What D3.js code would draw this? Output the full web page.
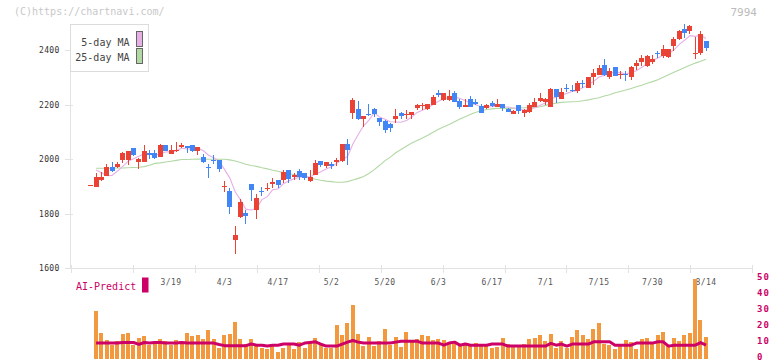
<!DOCTYPE html>
<html><head><meta charset="utf-8">
<script src="https://cdn.jsdelivr.net/npm/d3@7"></script>
<style>body{margin:0;background:#fff}svg{display:block}</style>
</head><body><svg id="c" width="772" height="361"></svg>
<script>
const dates = ["2/26","2/27","2/28",
"3/3","3/4","3/5","3/6","3/7","3/10","3/11","3/12","3/13","3/14","3/17","3/18","3/19","3/21","3/24","3/25","3/26","3/27","3/28","3/31",
"4/1","4/2","4/3","4/4","4/7","4/8","4/9","4/10","4/11","4/14","4/15","4/16","4/17","4/18","4/21","4/22","4/23","4/24","4/25","4/28","4/30",
"5/1","5/2","5/7","5/8","5/9","5/12","5/13","5/14","5/15","5/16","5/19","5/20","5/21","5/22","5/23","5/26","5/27","5/28","5/29","5/30",
"6/2","6/3","6/4","6/5","6/6","6/9","6/10","6/11","6/12","6/13","6/16","6/17","6/18","6/19","6/20","6/23","6/24","6/25","6/26","6/27","6/30",
"7/1","7/2","7/3","7/4","7/7","7/8","7/9","7/10","7/11","7/14","7/15","7/16","7/17","7/18","7/22","7/23","7/24","7/25","7/28","7/29","7/30","7/31",
"8/1","8/4","8/5","8/6","8/7","8/8","8/12","8/13","8/14"];
const open = [1903,1900,1924,1940,1972,1972,1997,1997,2041,1990,
1991,2023,2023,2010,2052,2021,2032,2046,2049,2052,
2030,2008,1970,1997,1997,1900,1884,1705,1788,1803,
1909,1814,1883,1892,1908,1924,1924,1961,1934,1956,
1950,1920,1942,1994,1975,1984,1991,1994,2056,2171,
2185,2148,2165,2185,2152,2141,2131,2148,2171,2163,
2164,2189,2196,2186,2200,2243,2218,2218,2243,2214,
2193,2221,2210,2196,2189,2208,2193,2203,2185,2167,
2199,2171,2175,2193,2215,2210,2193,2258,2221,2260,
2255,2252,2280,2263,2303,2309,2346,2303,2339,2310,
2313,2303,2344,2357,2344,2357,2389,2379,2377,2416,
2442,2478,2472,2389,2391,2434];
const high = [1906,1951,1952,1983,1990,1990,2025,2030,2042,2003,
2054,2034,2034,2056,2053,2052,2062,2060,2050,2053,
2046,2019,1983,2016,1998,1919,1895,1755,1854,1814,
1910,1873,1897,1913,1930,1925,1961,1962,1949,1964,
1951,1961,1997,1995,1991,1989,2005,2057,2074,2225,
2214,2160,2204,2188,2153,2144,2132,2185,2174,2181,
2175,2204,2208,2204,2237,2254,2244,2254,2251,2221,
2221,2232,2221,2203,2203,2214,2221,2204,2188,2181,
2200,2185,2207,2225,2243,2225,2260,2259,2260,2275,
2273,2287,2291,2303,2331,2346,2368,2335,2340,2324,
2324,2341,2364,2383,2383,2383,2398,2420,2406,2449,
2475,2497,2493,2449,2471,2435];
const low = [1902,1898,1920,1938,1952,1969,1988,1979,2013,1966,
1990,2002,2002,2008,2030,2019,2028,2041,2024,2028,
2017,1988,1933,1983,1955,1881,1800,1654,1785,1764,
1848,1782,1867,1884,1896,1895,1914,1914,1924,1925,
1924,1918,1941,1973,1969,1964,1977,1990,1980,2148,
2144,2119,2160,2155,2122,2097,2100,2133,2148,2148,
2148,2182,2182,2181,2199,2230,2214,2214,2211,2186,
2192,2192,2199,2170,2186,2193,2192,2178,2173,2166,
2167,2156,2171,2192,2212,2199,2192,2208,2220,2248,
2247,2245,2263,2260,2274,2308,2306,2296,2306,2296,
2289,2292,2328,2344,2340,2351,2372,2373,2373,2398,
2438,2445,2460,2368,2383,2398];
const close = [1905,1935,1936,1972,1957,1984,2023,2029,2017,2001,
2030,2016,2006,2052,2032,2034,2033,2052,2041,2032,
2045,1990,1968,1993,1964,1902,1826,1722,1843,1793,
1887,1858,1881,1894,1918,1906,1953,1928,1942,1936,
1933,1935,1986,1978,1990,1974,1997,2056,2034,2218,
2148,2159,2163,2166,2137,2108,2116,2159,2160,2165,
2174,2200,2200,2203,2227,2236,2243,2232,2212,2193,
2200,2193,2203,2171,2200,2196,2203,2189,2174,2177,
2177,2181,2199,2210,2225,2220,2258,2230,2246,2258,
2253,2279,2278,2302,2317,2336,2309,2325,2307,2312,
2311,2339,2355,2372,2379,2368,2387,2405,2405,2442,
2471,2464,2489,2391,2460,2409];
const ma5 = [null,1961,1951,1940,1941,1957,1974,1993,2002,2011,
2020,2019,2014,2021,2027,2028,2031,2041,2038,2038,
2041,2032,2015,2006,1992,1963,1931,1881,1851,1817,
1814,1821,1852,1863,1888,1891,1910,1920,1929,1933,
1938,1935,1946,1954,1964,1973,1985,1999,2010,2056,
2091,2123,2144,2171,2155,2147,2138,2137,2136,2142,
2155,2172,2180,2188,2201,2213,2222,2228,2230,2223,
2216,2206,2200,2192,2193,2193,2195,2192,2192,2188,
2184,2180,2182,2189,2198,2207,2222,2229,2236,2242,
2249,2253,2263,2274,2286,2302,2308,2318,2319,2318,
2313,2319,2325,2338,2351,2363,2372,2382,2389,2401,
2422,2437,2454,2451,2455,2443];
const ma25 = [null,1967,1967,1967,1967,1968,1968,1969,1970,1971,
1973,1978,1985,1987,1990,1993,1996,1999,1999,2000,
2001,2000,2000,2000,2000,2000,1998,1994,1988,1982,
1977,1974,1969,1965,1960,1956,1951,1947,1944,1940,
1936,1932,1927,1923,1920,1918,1916,1916,1918,1924,
1930,1937,1948,1962,1978,1995,2008,2024,2036,2048,
2060,2069,2078,2088,2099,2110,2119,2128,2138,2148,
2156,2165,2173,2178,2183,2185,2187,2187,2187,2187,
2188,2189,2190,2190,2193,2198,2203,2206,2209,2210,
2211,2212,2215,2218,2222,2226,2232,2237,2244,2249,
2254,2260,2266,2272,2279,2285,2292,2301,2310,2319,
2328,2337,2345,2353,2360,2367];
const volume = [null,30.2,16.4,11.9,8.7,11.2,15.6,16.4,8.7,13.1,
14.4,8.7,11.2,12.5,11.2,8.7,11.9,9.4,16.4,14.4,
15,12.5,18.1,12.5,7.1,15,15.6,23.3,12.5,9.4,
12.5,8.1,7.1,6.2,8.1,4.4,7.1,8.7,6.2,10.8,
7.1,10.8,13.1,8.7,7.1,7.1,21.2,15,22.7,33.7,
15.6,8.1,13.7,8.1,11.2,18.7,8.7,13.7,7.5,16.9,
11.2,12.5,15,14.4,11.9,12.5,11.9,10.6,11.2,8.7,
10,9.4,10,8.1,8.1,6.9,7.5,13.1,9.4,8.1,
8.1,9.4,12.5,13.1,15,11.2,15.6,6.9,11.2,6.9,
13.7,18.1,15,12.5,18.7,22.5,9.4,8.7,6.2,8.7,
11.9,10.6,6.2,12.5,13.1,10.6,15,16.9,8.1,13.1,
11.2,15,16.2,50.2,24.3,13.7];
const aiPredict = [null,10.0,10.0,10.0,10.0,10.0,10.4,10.4,10.4,9.2,
10.4,10.0,10.4,10.4,10.0,10.0,10.0,10.4,10.0,10.0,
10.0,10.0,10.0,10.0,9.1,8.4,8.4,8.4,8.4,8.4,
9.4,8.7,8.7,8.2,8.7,8.7,9.4,9.4,9.4,8.7,
10.0,10.4,10.8,9.4,8.1,8.1,8.1,9.4,10.6,11.6,
10.6,10.0,10.0,10.0,10.0,10.0,10.0,10.6,11.2,11.2,
11.2,11.2,10.0,10.0,10.0,10.0,8.7,10.0,10.6,8.7,
9.4,8.7,8.7,8.7,8.7,9.4,9.4,9.4,8.1,8.1,
8.1,8.1,8.1,8.1,8.1,8.1,9.8,8.7,9.4,8.1,
9.4,9.4,9.4,9.4,10.8,10.8,10.8,10.8,8.7,8.7,
8.7,8.7,10.0,10.0,10.0,10.0,10.8,10.8,8.1,8.7,
8.7,8.7,8.7,8.7,10.3,8.7];
const xLabels = ["3/19","4/3","4/17","5/2","5/20","6/3","6/17","7/1","7/15","7/30","8/14"];
const yTicks = [1600,1800,2000,2200,2400];
const volTicks = [0,10,20,30,40,50];
const gridDivisions = d3.range(12);

const C = {red:"#ea4335", blue:"#4285f4", vol:"#f2993f", ai:"#cc0066",
  ma5:"#e6b0e6", ma25:"#b2d8a4", axis:"#e2e2e2"};
const FONT = "'DejaVu Sans Mono', monospace";

const svg = d3.select("#c");
const x = d3.scalePoint().domain(dates).range([90.75, 706]);
const y = d3.scaleLinear().domain([1600, 2400]).range([268.3, 50.3]);
const v = d3.scaleLinear().domain([0, 50]).range([359, 279.5]);
const g = d3.scaleLinear().domain([0, 11]).range([71, 752.3]);

// copyright + code
svg.append("text").attr("x", 14).attr("y", 15).attr("font-family", FONT)
  .attr("font-size", 10).attr("fill", "#c8c8c8").text("(C)https://chartnavi.com/");
svg.append("text").attr("x", 757).attr("y", 15.5).attr("text-anchor", "end")
  .attr("font-family", FONT).attr("font-size", 11).attr("fill", "#bbb").text("7994");

// axes
const ax = svg.append("g").attr("stroke", C.axis).attr("shape-rendering", "crispEdges");
ax.append("line").attr("x1", 70.5).attr("x2", 70.5).attr("y1", 24).attr("y2", 268.5);
ax.append("line").attr("x1", 65).attr("x2", 752.5).attr("y1", 268.5).attr("y2", 268.5);
yTicks.filter(t => t > 1600).forEach(t => {
  const yy = Math.round(y(t)) + 0.5;
  ax.append("line").attr("x1", 65).attr("x2", 73).attr("y1", yy).attr("y2", yy);
});
gridDivisions.forEach(k => {
  const xx = Math.round(g(k)) + 0.5;
  ax.append("line").attr("x1", xx).attr("x2", xx).attr("y1", 265).attr("y2", 273);
});
svg.append("g").selectAll("text").data(yTicks).join("text")
  .attr("x", 59.5).attr("y", d => y(d) + 2.8).attr("text-anchor", "end")
  .attr("font-family", FONT).attr("font-size", 8).attr("letter-spacing", 0.3)
  .attr("fill", "#333").text(d => d);

// x labels (drawn before volume bars)
svg.append("g").selectAll("text").data(xLabels).join("text")
  .attr("x", d => x(d)).attr("y", 285).attr("text-anchor", "middle")
  .attr("font-family", FONT).attr("font-size", 8).attr("letter-spacing", 0.4)
  .attr("fill", "#555").text(d => d);

// moving averages
const idx = d3.range(dates.length);
const lineOf = arr => d3.line().defined(i => arr[i] != null)
  .x(i => x(dates[i])).y(i => y(arr[i]));
svg.append("path").attr("d", lineOf(ma25)(idx)).attr("fill", "none")
  .attr("stroke", C.ma25).attr("stroke-width", 1.1);
svg.append("path").attr("d", lineOf(ma5)(idx)).attr("fill", "none")
  .attr("stroke", C.ma5).attr("stroke-width", 1.1);

// candles
const cg = svg.append("g").attr("shape-rendering", "crispEdges");
idx.forEach(i => {
  const cx = x(dates[i]);
  const left = Math.round(cx - 2.5);
  const col = close[i] >= open[i] ? C.red : C.blue;
  cg.append("line").attr("x1", left + 2.5).attr("x2", left + 2.5)
    .attr("y1", y(high[i])).attr("y2", y(low[i])).attr("stroke", col);
  const top = y(Math.max(open[i], close[i])), bot = y(Math.min(open[i], close[i]));
  cg.append("rect").attr("x", left).attr("width", 5)
    .attr("y", top).attr("height", Math.max(1, bot - top)).attr("fill", col);
});

// volume bars
svg.append("g").attr("shape-rendering", "crispEdges").selectAll("rect")
  .data(idx.filter(i => volume[i] != null)).join("rect")
  .attr("x", i => Math.round(x(dates[i]) - 2.2)).attr("width", 4)
  .attr("y", i => v(volume[i])).attr("height", i => v(0) - v(volume[i]))
  .attr("fill", C.vol);

// AI predict line
const aiLine = d3.line().defined(i => aiPredict[i] != null)
  .x(i => x(dates[i])).y(i => v(aiPredict[i]));
svg.append("path").attr("d", aiLine(idx)).attr("fill", "none")
  .attr("stroke", C.ai).attr("stroke-width", 3).attr("stroke-linejoin", "round");

// right axis labels
svg.append("g").selectAll("text").data(volTicks).join("text")
  .attr("x", 757).attr("y", d => v(d) + 0.6)
  .attr("font-family", FONT).attr("font-size", 9).attr("font-weight", "bold")
  .attr("letter-spacing", 1.2).attr("fill", C.ai).text(d => d);

// AI-Predict legend
svg.append("text").attr("x", 76).attr("y", 289.5).attr("font-family", FONT)
  .attr("font-size", 10).attr("fill", C.ai).text("AI-Predict");
svg.append("rect").attr("x", 142).attr("y", 277.5).attr("width", 6.5).attr("height", 15)
  .attr("fill", C.ai);

// MA legend
const lg = svg.append("g");
lg.append("rect").attr("x", 70.5).attr("y", 24.5).attr("width", 78).attr("height", 47)
  .attr("fill", "#fff").attr("stroke", "#dcdcdc");
[["5-day MA", C.ma5, 45.5, 31.5], ["25-day MA", C.ma25, 61, 48.5]].forEach(([t, col, ty, ry]) => {
  lg.append("text").attr("x", 129.5).attr("y", ty).attr("text-anchor", "end")
    .attr("font-family", FONT).attr("font-size", 10).attr("fill", "#444").text(t);
  lg.append("rect").attr("x", 136.5).attr("y", ry).attr("width", 6).attr("height", 15)
    .attr("fill", col).attr("stroke", "#666");
});
</script></body></html>
